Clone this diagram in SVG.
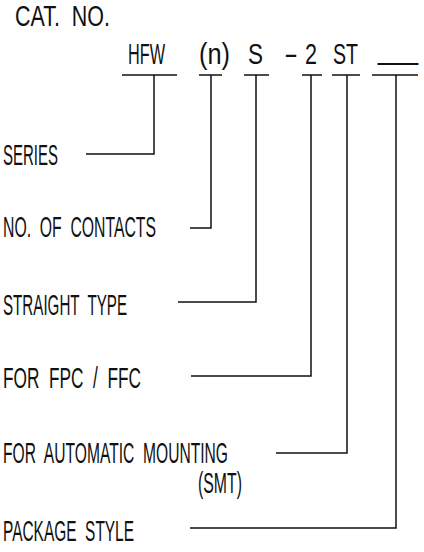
<svg xmlns="http://www.w3.org/2000/svg" width="424" height="552" viewBox="0 0 424 552">
<style>
text{font-family:"Liberation Sans",Arial,sans-serif;font-size:29px;fill:#111;white-space:pre;}
.c line,.c polyline{stroke:#111;stroke-width:1.5;fill:none;}
</style>
<rect width="424" height="552" fill="#fff"/>
<g id="title"><text x="15" y="26" textLength="95" lengthAdjust="spacingAndGlyphs" xml:space="preserve">CAT.  NO.</text></g>
<g id="code">
<text x="128" y="64" textLength="37" lengthAdjust="spacingAndGlyphs">HFW</text>
<text x="199" y="64" textLength="31" lengthAdjust="spacingAndGlyphs">(n)</text>
<text x="248" y="64" textLength="15" lengthAdjust="spacingAndGlyphs">S</text>
<text x="284" y="64" textLength="14" lengthAdjust="spacingAndGlyphs">-</text>
<text x="305" y="64" textLength="12" lengthAdjust="spacingAndGlyphs">2</text>
<text x="333" y="64" textLength="25" lengthAdjust="spacingAndGlyphs">ST</text>
<text x="378" y="59" textLength="40" lengthAdjust="spacingAndGlyphs">__</text>
</g>
<g id="series"><text x="3" y="165" textLength="55" lengthAdjust="spacingAndGlyphs">SERIES</text></g>
<g id="contacts"><text x="3" y="237" textLength="153" lengthAdjust="spacingAndGlyphs" xml:space="preserve">NO.  OF  CONTACTS</text></g>
<g id="straight"><text x="3" y="315" textLength="124" lengthAdjust="spacingAndGlyphs" xml:space="preserve">STRAIGHT  TYPE</text></g>
<g id="fpc"><text x="3" y="388" textLength="138" lengthAdjust="spacingAndGlyphs" xml:space="preserve">FOR  FPC  /  FFC</text></g>
<g id="smt"><text x="3" y="463" textLength="225" lengthAdjust="spacingAndGlyphs" xml:space="preserve">FOR  AUTOMATIC  MOUNTING</text><text x="198" y="493" textLength="44" lengthAdjust="spacingAndGlyphs">(SMT)</text></g>
<g id="package"><text x="3" y="541" textLength="131" lengthAdjust="spacingAndGlyphs" xml:space="preserve">PACKAGE  STYLE</text></g>
<g id="connectors" class="c">
<line x1="122" y1="75" x2="177" y2="75"/>
<line x1="199" y1="75" x2="222" y2="75"/>
<line x1="244" y1="75" x2="269" y2="75"/>
<line x1="302" y1="75" x2="322" y2="75"/>
<line x1="332" y1="75" x2="360" y2="75"/>
<line x1="372" y1="75" x2="418" y2="75"/>
<polyline points="154,75 154,154 86,154"/>
<polyline points="211,75 211,228 190,228"/>
<polyline points="256,75 256,302 178,302"/>
<polyline points="311,75 311,376 191,376"/>
<polyline points="347,75 347,453 276,453"/>
<polyline points="396,75 396,528 190,528"/>
</g>
</svg>
